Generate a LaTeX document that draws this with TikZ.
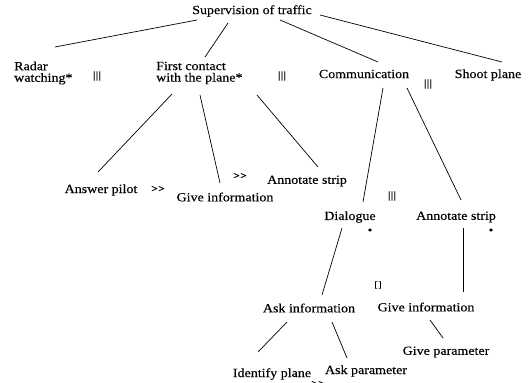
\documentclass[tikz,border=0pt]{standalone}
\usepackage{fontspec}
\setmainfont[FakeStretch=1.12,FakeBold=0.25]{Liberation Serif}
\usetikzlibrary{calc}
\tikzset{
  lbl/.style={inner sep=0pt, font=\fontsize{12.5}{11.5}\selectfont, align=left},
  op/.style={inner sep=0pt, font=\fontsize{10}{10}\selectfont\bfseries},
  edge/.style={line width=0.7pt}
}
\newcommand{\tbars}{\textbar\kern0.3pt\textbar\kern0.3pt\textbar}
\newcommand{\seqop}{{>}\kern0.5pt{>}}
\begin{document}
\begin{tikzpicture}[x=1pt,y=-1pt]
\path[use as bounding box, fill=white] (0,0) rectangle (528,383);
\begin{scope}
\clip (0,0) rectangle (528,383);
\node[lbl] (sup) at (252,11) {Supervision of traffic};
\node[lbl, anchor=west] (radar) at (14,73) {Radar\\watching*};
\node[lbl, anchor=west] (first) at (156,73) {First contact\\with the plane*};
\node[lbl] (comm) at (364,74) {Communication};
\node[lbl] (shoot) at (488,75) {Shoot plane};
\node[lbl] (ap) at (101,190) {Answer pilot};
\node[lbl] (gi1) at (225,197) {Give information};
\node[lbl] (as1) at (307,181) {Annotate strip};
\node[lbl] (dlg) at (350,217) {Dialogue};
\node[lbl] (as2) at (456,217) {Annotate strip};
\node[lbl] (ai) at (309,308) {Ask information};
\node[lbl] (gi2) at (426,307) {Give information};
\node[lbl] (gp) at (446,352) {Give parameter};
\node[lbl] (ip) at (272,374) {Identify plane};
\node[lbl] (apar) at (366,371) {Ask parameter};

\node[op] (o1) at (97,76) {\tbars};
\node[op] (o2) at (282,76) {\tbars};
\node[op] (o3) at (428,84) {\tbars};
\node[op] (o4) at (158,189) {\seqop};
\node[op] (o5) at (240,176) {\seqop};
\node[op] (o6) at (392,196) {\tbars};
\node[op] (o7) at (370,231) {\textbullet};
\node[op] (o8) at (491,231) {\textbullet};
\node[op, font=\fontsize{9}{9}\selectfont] (o9) at (378,285) {[\kern0.5pt]};
\node[op] (o10) at (318,384) {\seqop};

\draw[edge] ($(sup)+(-55,9)$) -- ($(radar.west)+(41,-26)$);
\draw[edge] ($(sup)+(-24,12)$) -- ($(first.west)+(49,-16)$);
\draw[edge] ($(sup)+(28,9)$) -- ($(comm)+(14,-12)$);
\draw[edge] ($(sup)+(68,4)$) -- ($(shoot)+(14,-13)$);
\draw[edge] ($(first.west)+(16,21)$) -- ($(ap)+(-3,-18)$);
\draw[edge] ($(first.west)+(44,22)$) -- ($(gi1)+(-5,-14)$);
\draw[edge] ($(first.west)+(101,22)$) -- ($(as1)+(11,-14)$);
\draw[edge] ($(comm)+(19,14)$) -- ($(dlg)+(13,-15)$);
\draw[edge] ($(comm)+(43,14)$) -- ($(as2)+(5,-17)$);
\draw[edge] ($(dlg)+(-8,11)$) -- ($(ai)+(13,-13)$);
\draw[edge] ($(as2)+(7,11)$) -- ($(gi2)+(37,-15)$);
\draw[edge] ($(ai)+(-22,14)$) -- ($(ip)+(-14,-22)$);
\draw[edge] ($(ai)+(23,14)$) -- ($(apar)+(-19,-13)$);
\draw[edge] ($(gi2)+(4,13)$) -- ($(gp)+(-3,-14)$);
\end{scope}
\end{tikzpicture}
\end{document}
